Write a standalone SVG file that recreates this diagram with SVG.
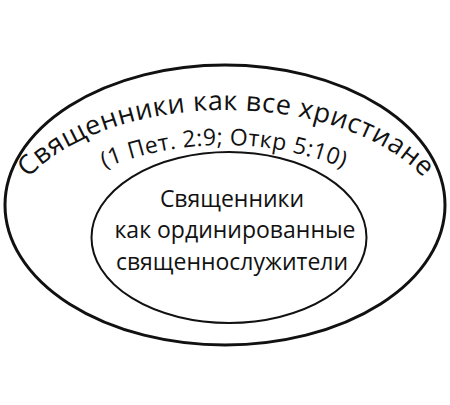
<svg xmlns="http://www.w3.org/2000/svg" width="450" height="405" viewBox="0 0 450 405">
<style>
.t{font-family:"Open Sans","Noto Sans","DejaVu Sans",sans-serif;fill:#111}
.e{fill:none;stroke:#111}
</style>
<defs>
<path id="arc1" d="M 4,235 A 222,125 0 0 1 448,235"/>
<path id="arc2" d="M 40,203.2 A 320,320 0 0 1 408,203.2"/>
</defs>
<rect width="450" height="405" fill="#fff"/>
<g id="outer">
<ellipse class="e" cx="225" cy="205" rx="220" ry="140" stroke-width="3"/>
<text class="t" font-size="27" letter-spacing="0.5"><textPath href="#arc1" startOffset="50%" text-anchor="middle">Священники как все христиане</textPath></text>
<text class="t" font-size="23" letter-spacing="0.4"><textPath href="#arc2" startOffset="50%" text-anchor="middle">(1 Пет. 2:9; Откр 5:10)</textPath></text>
</g>
<g id="inner">
<ellipse class="e" cx="229" cy="237.5" rx="137.5" ry="85.5" stroke-width="2"/>
<text class="t" font-size="23" text-anchor="middle" x="232" y="207">Священники</text>
<text class="t" font-size="23" text-anchor="middle" x="235" y="238">как ординированные</text>
<text class="t" font-size="23" text-anchor="middle" x="232" y="270">священнослужители</text>
</g>
<g id="connectors"/>
</svg>
